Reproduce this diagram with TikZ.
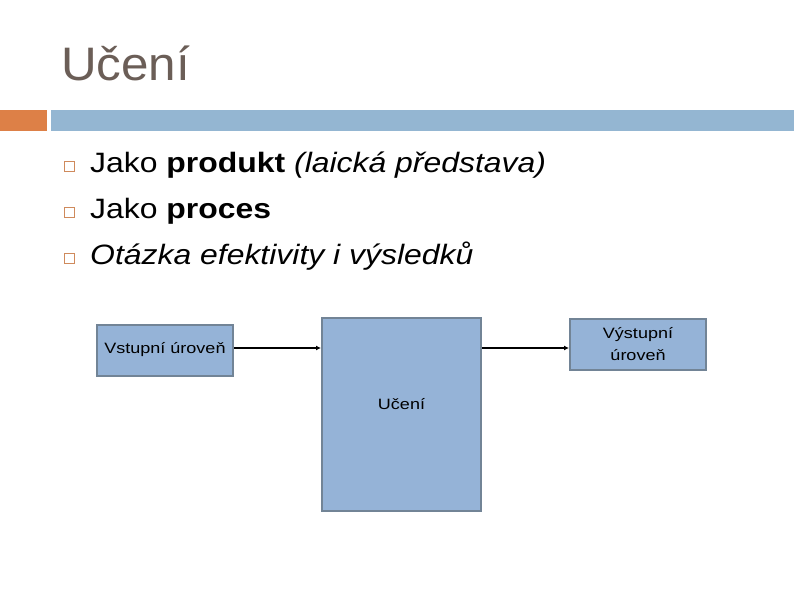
\documentclass[tikz,border=0pt]{standalone}
\usepackage{fontspec}
\setmainfont{Liberation Sans}
\newfontfamily\itemfont[FakeStretch=1.14]{Liberation Sans}
\newfontfamily\boxfont[FakeStretch=1.2]{Liberation Sans}
\newfontfamily\titlefont[FakeStretch=1.05]{Liberation Sans}
\usetikzlibrary{arrows.meta,positioning}
\definecolor{barorange}{HTML}{DD8047}
\definecolor{bulletline}{HTML}{CF8A5C}
\definecolor{barblue}{HTML}{94B6D2}
\definecolor{boxfill}{HTML}{95B3D7}
\definecolor{boxline}{HTML}{728496}
\definecolor{titlegray}{HTML}{6B5E57}
\tikzset{
  flow box/.style={rectangle,draw=boxline,fill=boxfill,line width=2pt,inner sep=2pt,font=\boxfont\fontsize{15}{18}\selectfont,align=center},
  flow link/.style={-{Latex[length=5pt,width=5pt]},line width=1.1pt},
  bullet mark/.style={rectangle,draw=bulletline,line width=1.5pt,minimum size=10pt,inner sep=0pt},
  item text/.style={anchor=base west,inner sep=0pt,font=\itemfont\fontsize{28}{32}\selectfont},
}

\begin{document}
\begin{tikzpicture}[x=1pt,y=-1pt]
  \useasboundingbox (0,0) rectangle (794,595);
  % header
  \node[anchor=base west,inner sep=0pt,text=titlegray,font=\titlefont\fontsize{47}{50}\selectfont] (title) at (61,80) {Učení};
  \fill[barorange] (0,110) rectangle (47,131);
  \fill[barblue] (51,110) rectangle (794,131);
  % bullets
  \foreach \y in {166.5,212.5,258.5}{
    \node[bullet mark] at (69.5,\y) {};
  }
  \node[item text] (i1) at (90,172) {Jako \textbf{produkt} \textit{(laická představa)}};
  \node[item text] (i2) at (90,218) {Jako \textbf{proces}};
  \node[item text] (i3) at (90,264) {\textit{Otázka efektivity i výsledků}};
  % diagram
  \node[flow box,minimum width=136,minimum height=51] (vstup) at (165,350) {Vstupní úroveň};
  \node[flow box,minimum width=159,minimum height=193,label={[font=\boxfont\fontsize{15}{18}\selectfont,yshift=10pt]center:Učení}] (uceni) at (401.5,414.5) {};
  \node[flow box,minimum width=136,minimum height=51] (vystup) at (638,344.5) {Výstupní\\[4pt]úroveň};
  \draw[flow link] (vstup.east |- 0,348) -- (uceni.west |- 0,348);
  \draw[flow link] (uceni.east |- 0,348) -- (vystup.west |- 0,348);
\end{tikzpicture}
\end{document}
